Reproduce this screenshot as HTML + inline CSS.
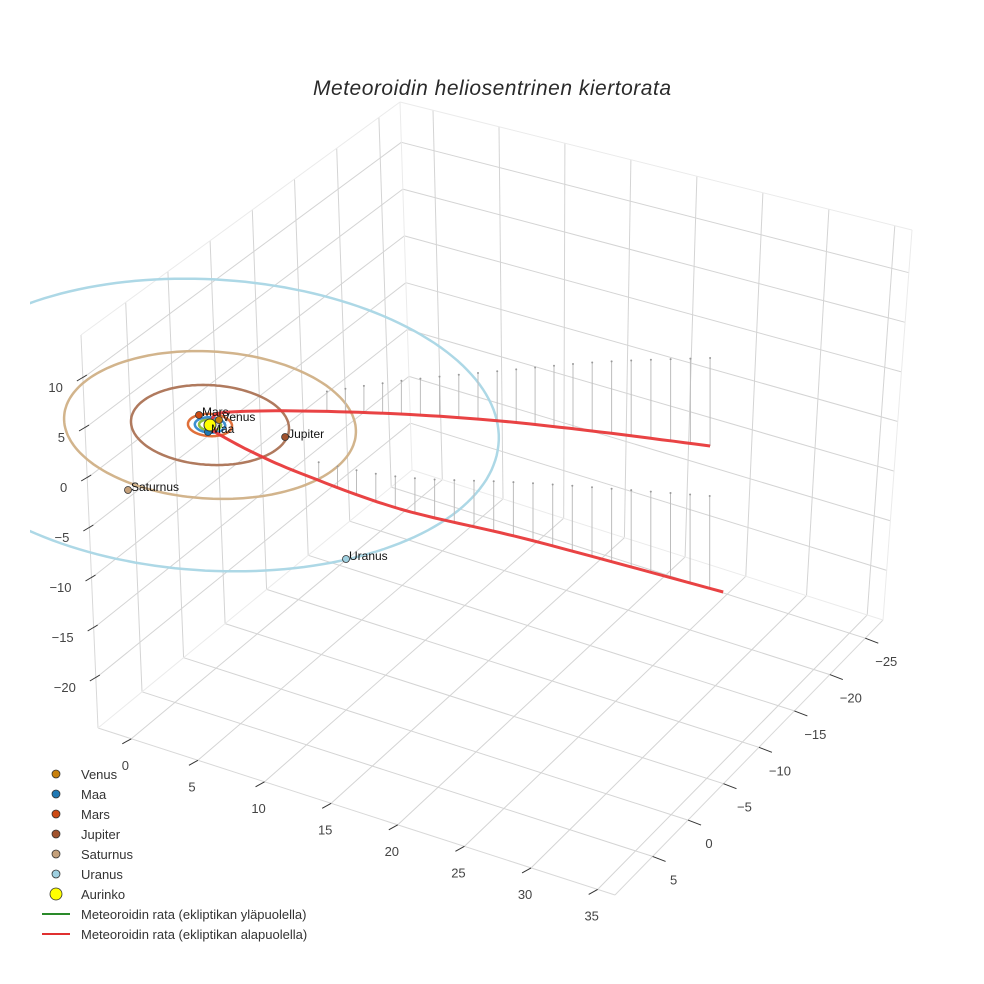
<!DOCTYPE html>
<html>
<head>
<meta charset="utf-8">
<style>
html,body{margin:0;padding:0;background:#fff;}
svg{display:block;font-family:"Liberation Sans",sans-serif;}
</style>
</head>
<body>
<svg id="chart" width="984" height="984" viewBox="0 0 984 984">
  <defs><clipPath id="sceneClip"><rect x="30" y="0" width="954" height="984"/></clipPath></defs>
  <text x="492" y="95" text-anchor="middle" font-size="21" font-style="italic" fill="#2a2a2a" textLength="358">Meteoroidin heliosentrinen kiertorata</text>
  <g id="grid"></g>
  <g id="ticks"></g>
  <g id="data" clip-path="url(#sceneClip)"></g>
  <g id="legend"></g>
</svg>
<script>
// ---- axis setup ----
const xTicks = [0,5,10,15,20,25,30,35];
const yTicks = [-25,-20,-15,-10,-5,0,5];
const zTicks = [-20,-15,-10,-5,0,5,10];
const xRange = [-2.5, 36.3];
const yRange = [-27.5, 10.3];
const zRange = [-25, 14.3];

// ---- data ----
const planetNames = ["Venus","Maa","Mars","Jupiter","Saturnus","Uranus"];
const planetX = [0.18, 0.33, -1.23, 4.87, -0.39, 15.91];
const planetY = [-0.90, 0.87, -0.73, -1.40, 10.44, 10.27];
const planetZ = [0, 0, 0, 0, 0, 0];
const orbitRadius = [0.72, 1.0, 1.45, 5.2, 9.6, 19.0];
const planetColors = ["#c8800c","#1f78b4","#cc4a14","#a0522d","#c4a07a","#9fd0e0"];
const orbitColors = ["#8fbf3f","#3b8fd0","#e0703a","#b07a5e","#d2b48c","#add8e6"];
const sunPos = [0,0,0];
const pathX = [23.17,17.40,12.48,7.64,3.10,0.15,-0.40,0.59,0.72,3.39,7.02,13.69,21.20,32.66];
const pathY = [-26.08,-21.57,-16.85,-12.03,-6.63,-2.45,-1.14,0.39,0.61,0.69,0.45,-1.08,-5.19,-10.71];
const pathZ = [-8.8,-7,-5,-3.3,-1.5,-0.2,-0.1,0,0,-0.7,-1.5,-3.2,-5.7,-9.5];

const NS = "http://www.w3.org/2000/svg";
function mk(tag, attrs, parent){const e=document.createElementNS(NS,tag);for(const k in attrs)e.setAttribute(k,attrs[k]);parent.appendChild(e);return e;}

// trilinear box projection for grid
const C = {
  "000":[412,470],"100":[883,620],"010":[98,728],"110":[615,895],
  "001":[400,102],"101":[912,230],"011":[81,335],"111":[620,490]
};
function lerp(a,b,t){return [a[0]+(b[0]-a[0])*t,a[1]+(b[1]-a[1])*t];}
function T(x,y,z){
  const fx=(x-xRange[0])/(xRange[1]-xRange[0]);
  const fy=(y-yRange[0])/(yRange[1]-yRange[0]);
  const fz=(z-zRange[0])/(zRange[1]-zRange[0]);
  const b0=lerp(C["000"],C["010"],fy), b1=lerp(C["100"],C["110"],fy);
  const t0=lerp(C["001"],C["011"],fy), t1=lerp(C["101"],C["111"],fy);
  const b=lerp(b0,b1,fx), t=lerp(t0,t1,fx);
  return lerp(b,t,fz);
}
// affine projection for data traces
function P(x,y,z){return [210+13.3*x-7.36*y, 425+4.3*x+6.39*y-10*z];}

const grid=document.getElementById('grid');
function gl(p,q,color,name){
  const l=mk('line',{x1:p[0].toFixed(1),y1:p[1].toFixed(1),x2:q[0].toFixed(1),y2:q[1].toFixed(1),stroke:color,'stroke-width':1},grid);
  
  
}
const [x0,x1]=xRange,[y0,y1]=yRange,[z0,z1]=zRange;
const gc="#d4d4d4";
xTicks.forEach(v=>{gl(T(v,y0,z0),T(v,y1,z0),gc,'x-gridline-floor');gl(T(v,y0,z0),T(v,y0,z1),gc,'x-gridline-wall');});
yTicks.forEach(v=>{gl(T(x0,v,z0),T(x1,v,z0),gc,'y-gridline-floor');gl(T(x0,v,z0),T(x0,v,z1),gc,'y-gridline-wall');});
zTicks.forEach(v=>{gl(T(x0,y0,v),T(x0,y1,v),gc,'z-gridline-left-wall');gl(T(x0,y0,v),T(x1,y0,v),gc,'z-gridline-back-wall');});
const ec="#ebebeb";
gl(T(x0,y1,z0),T(x1,y1,z0),"#d8d8d8",'x-axis-line');
gl(T(x1,y0,z0),T(x1,y1,z0),"#d8d8d8",'y-axis-line');
gl(T(x0,y1,z0),T(x0,y1,z1),"#d8d8d8",'z-axis-line');
gl(T(x0,y0,z0),T(x0,y0,z1),ec,'box-edge');
gl(T(x1,y0,z0),T(x1,y0,z1),ec,'box-edge');
gl(T(x0,y0,z1),T(x0,y1,z1),ec,'box-edge');
gl(T(x0,y0,z1),T(x1,y0,z1),ec,'box-edge');
gl(T(x0,y0,z0),T(x0,y1,z0),ec,'box-edge');
gl(T(x0,y0,z0),T(x1,y0,z0),ec,'box-edge');

// ticks
const tk=document.getElementById('ticks');
function tickLine(p,d,name){
  const l=mk('line',{x1:p[0],y1:p[1],x2:p[0]+d[0],y2:p[1]+d[1],stroke:"#333",'stroke-width':1},tk);
  
  
}
function tickText(x,y,s,anchor,name){
  const t=mk('text',{x:x,y:y,'font-size':13,fill:'#444','text-anchor':anchor},tk);
  t.textContent=s;
  
  
}
const fmt=v=>v<0?"\u2212"+Math.abs(v):String(v);
xTicks.forEach(v=>{const p=T(v,y1,z0);tickLine(p,[-9,5],'x-tick');tickText(p[0]-6,p[1]+31,fmt(v),'middle','x-tick-label');});
yTicks.forEach(v=>{const p=T(x1,v,z0);tickLine(p,[13,5],'y-tick');tickText(p[0]+21,p[1]+28,fmt(v),'middle','y-tick-label');});
zTicks.forEach(v=>{const p=T(x0,y1,v);tickLine([p[0]+4,p[1]-3],[-10,6],'z-tick');tickText(p[0]-20,p[1]+14,fmt(v),'end','z-tick-label');});

// data
const dg=document.getElementById('data');
orbitRadius.forEach((r,i)=>{
  let d="";
  for(let k=0;k<=180;k++){const a=k/180*2*Math.PI;const p=P(r*Math.cos(a),r*Math.sin(a),0);d+=(k?"L":"M")+p[0].toFixed(1)+","+p[1].toFixed(1);}
  const o=mk('path',{d:d,fill:'none',stroke:orbitColors[i],'stroke-width':2.5},dg);
  
  
});
const N=pathX.length;
const smooth=[];
for(let i=0;i<N-1;i++){
  const i0=Math.max(0,i-1),i3=Math.min(N-1,i+2);
  for(let k=0;k<10;k++){
    const t=k/10,t2=t*t,t3=t2*t;
    const cr=(a,b,c,d)=>0.5*((2*b)+(-a+c)*t+(2*a-5*b+4*c-d)*t2+(-a+3*b-3*c+d)*t3);
    smooth.push([cr(pathX[i0],pathX[i],pathX[i+1],pathX[i3]),cr(pathY[i0],pathY[i],pathY[i+1],pathY[i3]),cr(pathZ[i0],pathZ[i],pathZ[i+1],pathZ[i3])]);
  }
}
smooth.push([pathX[N-1],pathY[N-1],pathZ[N-1]]);
let pd="";
smooth.forEach((q,i)=>{const p=P(q[0],q[1],q[2]);pd+=(i?"L":"M")+p[0].toFixed(1)+","+p[1].toFixed(1);});
const step=1.35;
let acc=0;
for(let i=0;i<smooth.length-1;i++){
  const a0=smooth[i],a1=smooth[i+1];
  const dx=a1[0]-a0[0],dy=a1[1]-a0[1],dz=a1[2]-a0[2];
  const L=Math.hypot(dx,dy,dz);
  let s=acc;
  while(s<L){
    const t=s/L;
    const x=a0[0]+dx*t,y=a0[1]+dy*t,z=a0[2]+dz*t;
    if(z<-1.8){
      const a=P(x,y,z),b=P(x,y,0);
      const st=mk('line',{x1:a[0].toFixed(1),y1:a[1].toFixed(1),x2:b[0].toFixed(1),y2:b[1].toFixed(1),stroke:'#bdbdbd','stroke-width':1},dg);
      
      
      const dt=mk('circle',{cx:b[0].toFixed(1),cy:b[1].toFixed(1),r:1,fill:'#999'},dg);
      
      
    }
    s+=step;
  }
  acc=s-L;
}
const path=mk('path',{d:pd,fill:'none',stroke:'#e8393a','stroke-width':3,'stroke-linejoin':'round','stroke-opacity':0.95},dg);


planetNames.forEach((n,i)=>{
  const p=P(planetX[i],planetY[i],planetZ[i]);
  const c=mk('circle',{cx:p[0].toFixed(1),cy:p[1].toFixed(1),r:3.5,fill:planetColors[i],stroke:'#333','stroke-width':0.8},dg);
  
  
});
const sp=P(sunPos[0],sunPos[1],sunPos[2]);
const sun=mk('circle',{cx:sp[0],cy:sp[1],r:6,fill:'#ffff00',stroke:'#333','stroke-width':1},dg);


planetNames.forEach((n,i)=>{
  const p=P(planetX[i],planetY[i],planetZ[i]);
  const t=mk('text',{x:(p[0]+3).toFixed(1),y:(p[1]+1).toFixed(1),'font-size':12,fill:'#111'},dg);
  t.textContent=n;
  
  
});

// legend
const lg=document.getElementById('legend');
const legendLabels=["Venus","Maa","Mars","Jupiter","Saturnus","Uranus","Aurinko"];
const legendColors=["#c8800c","#1f78b4","#cc4a14","#a0522d","#c4a07a","#9fd0e0","#ffff00"];
legendLabels.forEach((s,i)=>{
  const y=774+i*20;
  const c=mk('circle',{cx:56,cy:y,r:i==6?6:4,fill:legendColors[i],stroke:'#333','stroke-width':0.8},lg);
  
  
  const t=mk('text',{x:81,y:y+5,'font-size':13,fill:'#333'},lg);
  t.textContent=s;
  
  
});
[["#2a8a2a","Meteoroidin rata (ekliptikan yläpuolella)"],["#e03030","Meteoroidin rata (ekliptikan alapuolella)"]].forEach((e,i)=>{
  const y=914+i*20;
  const l=mk('line',{x1:42,y1:y,x2:70,y2:y,stroke:e[0],'stroke-width':2},lg);
  
  
  const t=mk('text',{x:81,y:y+5,'font-size':13,fill:'#333'},lg);
  t.textContent=e[1];
  
  
});
</script>
</body>
</html>
